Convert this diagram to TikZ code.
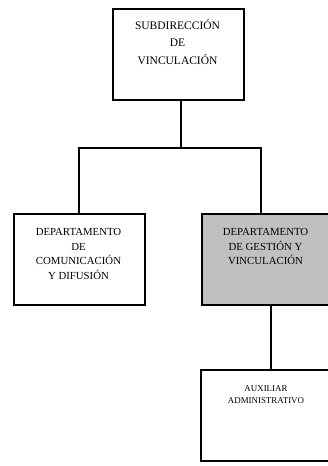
\documentclass[tikz,border=0pt]{standalone}
\usepackage{fontspec}
\setmainfont{Liberation Serif}
\definecolor{boxgray}{RGB}{192,192,192}
\begin{document}
\begin{tikzpicture}[x=1pt,y=-1pt,
  orgbox/.style={draw=black,line width=1.7pt,rectangle,inner sep=0pt,anchor=north west},
  conn/.style={draw=black,line width=1.3pt},
  lbl/.style={align=center,inner sep=0pt,anchor=north}]
\useasboundingbox (0,0) rectangle (328,466);
\clip (0,0) rectangle (328,466);
% boxes
\node[orgbox,minimum width=131pt,minimum height=91pt] (top) at (112,8) {};
\node[orgbox,minimum width=131pt,minimum height=91pt] (left) at (13,213) {};
\node[orgbox,fill=boxgray,minimum width=130pt,minimum height=91pt] (gray) at (201,213) {};
\node[orgbox,minimum width=132pt,minimum height=91pt] (aux) at (200,369) {};
% labels
\node[lbl,font=\fontsize{11.5}{17.5}\selectfont] (toplbl) at (177.5,19.2) {SUBDIRECCIÓN\\DE\\VINCULACIÓN};
\node[lbl,font=\fontsize{10.8}{14.6}\selectfont] (leftlbl) at (78.5,228.4) {DEPARTAMENTO\\DE\\COMUNICACIÓN\\Y DIFUSIÓN};
\node[lbl,font=\fontsize{10.8}{14.6}\selectfont] (graylbl) at (265.5,228.4) {DEPARTAMENTO\\DE GESTIÓN Y\\VINCULACIÓN};
\node[lbl,font=\fontsize{8.9}{12}\selectfont] (auxlbl) at (266,385.2) {AUXILIAR\\ADMINISTRATIVO};
% connectors
\coordinate (bus) at (181,148);
\coordinate (busL) at (79,148);
\coordinate (busR) at (261,148);
\draw[conn] (top.south -| bus) -- (bus);
\draw[conn] (left.north -| busL) -- (busL) -- (busR) -- (gray.north -| busR);
\coordinate (low) at (271,304);
\draw[conn] (gray.south -| low) -- (aux.north -| low);
\end{tikzpicture}
\end{document}
